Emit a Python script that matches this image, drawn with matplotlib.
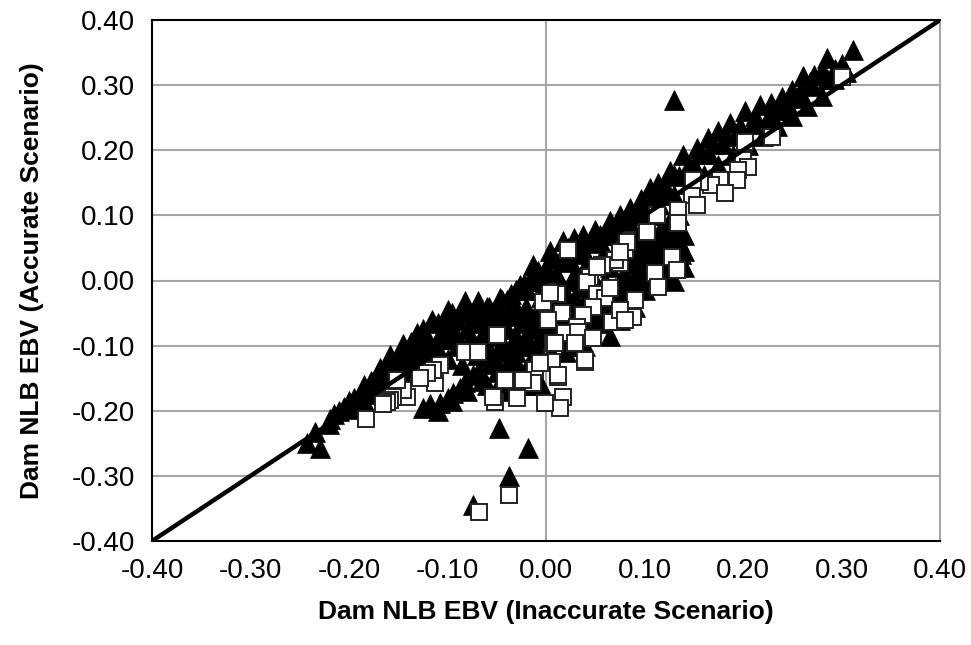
import matplotlib
matplotlib.use("Agg")
import matplotlib.pyplot as plt

# Triangles (black, filled)
tri_x = [
    # upper band, top edge
    -0.243, -0.229, -0.219, -0.205, -0.189, -0.178, -0.169, -0.158, -0.145, -0.131,
    -0.116, -0.100, -0.082, -0.069, -0.058, -0.047, -0.036, -0.026, -0.013, 0.004,
    0.017, 0.028, 0.038, 0.050, 0.065, 0.075, 0.085, 0.096, 0.106, 0.114,
    0.126, 0.139, 0.153, 0.164, 0.175, 0.187, 0.202, 0.217, 0.228, 0.240,
    0.250, 0.261, 0.272, 0.285, 0.300, 0.312, 0.293,
    # upper band, second row
    -0.235, -0.215, -0.200, -0.185, -0.172, -0.160, -0.148, -0.137, -0.125, -0.110,
    -0.095, -0.080, -0.065, -0.050, -0.040, -0.022, -0.008, 0.008, 0.022, 0.035,
    0.055, 0.070, 0.080, 0.092, 0.110, 0.120, 0.130, 0.145, 0.158, 0.170,
    0.183, 0.197, 0.212, 0.232, 0.245, 0.258, 0.268, 0.280, 0.292, 0.305,
    # upper band, middle
    -0.210, -0.195, -0.180, -0.165, -0.150, -0.135, -0.120, -0.105, -0.090, -0.075,
    -0.060, -0.045, -0.030, -0.015, 0.000, 0.015, 0.030, 0.045, 0.060, 0.075,
    0.090, 0.105, 0.120, 0.135, 0.150, 0.165, 0.180, 0.195, 0.210, 0.225,
    0.240, 0.255, 0.270, 0.285, 0.300,
    # upper band, along the line
    -0.220, -0.200, -0.185, -0.170, -0.155, -0.140, -0.125, -0.110, -0.095, -0.080,
    -0.065, -0.050, -0.035, -0.020, -0.005, 0.010, 0.025, 0.040, 0.055, 0.070,
    0.085, 0.100, 0.115, 0.130, 0.145, 0.160, 0.175, 0.190, 0.205, 0.220,
    0.235, 0.250, 0.265, 0.280,
    # upper band, left part filler
    -0.195, -0.180, -0.175, -0.165, -0.155, -0.145, -0.140, -0.130, -0.125, -0.115,
    -0.105, -0.100, -0.090, -0.085, -0.075, -0.070,
    # lower band
    -0.125, -0.118, -0.108, -0.100, -0.094, -0.087, -0.082, -0.074, -0.068, -0.060,
    -0.052, -0.045, -0.036, -0.028, -0.020, -0.010, 0.000, 0.010, 0.020, 0.030,
    0.040, 0.050, 0.060, 0.070, 0.080, 0.090, 0.100, 0.110, 0.120, 0.130,
    0.137, 0.133, 0.125,
    # fill between line and lower band
    -0.100, -0.090, -0.085, -0.075, -0.070, -0.060, -0.060, -0.050, -0.045, -0.040,
    -0.035, -0.030, -0.025, -0.020, -0.020, -0.015, -0.010, -0.005, 0.000, 0.005,
    0.010, 0.015, 0.020, 0.025, 0.030, 0.035, 0.040, 0.045, 0.050, 0.055,
    0.060, 0.065, 0.070, 0.075, 0.080, 0.085, 0.090, 0.095, 0.100, 0.105,
    0.110, 0.115, 0.120, 0.125, 0.130, 0.135, 0.140, 0.140, -0.130, -0.120,
    -0.140, -0.150,
    -0.110, -0.095, -0.080, -0.065, -0.055, -0.040, -0.030, -0.015, -0.005, 0.005,
    0.015, 0.020, 0.030, 0.040, 0.045, 0.050, 0.060, 0.065, 0.070, 0.080,
    0.085, 0.090, 0.095, 0.100, 0.105, 0.110, 0.115, 0.120, 0.125, 0.130,
    0.135, 0.140, 0.100, 0.110, 0.090, 0.060, 0.045, 0.030, 0.015, -0.005,
    -0.060, -0.055, -0.045, -0.035, -0.030, -0.020, -0.015, -0.010, 0.000, 0.005,
    0.010, 0.025, 0.035, 0.040, 0.055, 0.060, 0.070, 0.075, 0.085, 0.095,
    0.105, 0.115, 0.125, 0.135, 0.120, 0.100, 0.085, 0.070, 0.040, 0.025,
    # bottom of lower band
    -0.110, -0.095, -0.080, -0.065, -0.050, -0.040, -0.045, -0.030, -0.020,
    -0.035, -0.020, -0.005, -0.045, -0.060, -0.025,
    # outliers
    0.130, -0.048, -0.018, -0.038, -0.074,
]
tri_y = [
    -0.249, -0.257, -0.212, -0.195, -0.176, -0.155, -0.134, -0.115, -0.098, -0.080,
    -0.060, -0.045, -0.032, -0.032, -0.040, -0.027, -0.020, -0.007, 0.024, 0.045,
    0.061, 0.066, 0.070, 0.078, 0.092, 0.100, 0.112, 0.125, 0.142, 0.150,
    0.168, 0.193, 0.204, 0.219, 0.229, 0.242, 0.260, 0.270, 0.272, 0.281,
    0.293, 0.314, 0.316, 0.342, 0.333, 0.354, 0.325,
    -0.232, -0.205, -0.185, -0.160, -0.145, -0.130, -0.115, -0.095, -0.075, -0.065,
    -0.050, -0.045, -0.050, -0.040, -0.030, -0.005, 0.015, 0.035, 0.050, 0.058,
    0.070, 0.082, 0.095, 0.110, 0.128, 0.148, 0.162, 0.178, 0.195, 0.210,
    0.222, 0.238, 0.252, 0.262, 0.272, 0.290, 0.305, 0.322, 0.310, 0.320,
    -0.200, -0.180, -0.165, -0.145, -0.128, -0.110, -0.092, -0.075, -0.060, -0.050,
    -0.040, -0.030, -0.015, 0.005, 0.020, 0.035, 0.048, 0.060, 0.075, 0.085,
    0.100, 0.118, 0.138, 0.160, 0.178, 0.195, 0.210, 0.225, 0.240, 0.250,
    0.262, 0.280, 0.298, 0.310, 0.322,
    -0.220, -0.198, -0.185, -0.165, -0.152, -0.135, -0.120, -0.105, -0.090, -0.075,
    -0.060, -0.045, -0.030, -0.015, 0.000, 0.012, 0.028, 0.040, 0.058, 0.070,
    0.088, 0.100, 0.118, 0.132, 0.148, 0.162, 0.178, 0.192, 0.208, 0.222,
    0.238, 0.252, 0.268, 0.284,
    -0.190, -0.175, -0.155, -0.160, -0.135, -0.145, -0.110, -0.125, -0.095, -0.110,
    -0.090, -0.065, -0.085, -0.050, -0.065, -0.045,
    -0.196, -0.190, -0.188, -0.180, -0.172, -0.165, -0.156, -0.145, -0.138, -0.128,
    -0.120, -0.110, -0.100, -0.095, -0.085, -0.075, -0.068, -0.060, -0.052, -0.042,
    -0.035, -0.028, -0.020, -0.012, -0.005, 0.002, 0.010, 0.018, 0.025, 0.030,
    0.040, 0.055, 0.065,
    -0.120, -0.100, -0.130, -0.090, -0.115, -0.070, -0.100, -0.060, -0.095, -0.075,
    -0.050, -0.110, -0.065, -0.040, -0.100, -0.120, -0.050, -0.090, -0.040, -0.110,
    -0.030, -0.080, -0.020, -0.100, -0.060, -0.010, -0.080, -0.045, 0.000, -0.065,
    -0.035, 0.020, -0.050, 0.000, -0.025, 0.030, -0.040, 0.050, -0.015, 0.060,
    0.030, 0.075, 0.005, 0.090, 0.050, 0.100, 0.020, 0.070, -0.100, -0.115,
    -0.120, -0.140,
    -0.090, -0.075, -0.100, -0.085, -0.115, -0.055, -0.085, -0.060, -0.025, -0.070,
    -0.045, -0.110, -0.030, -0.100, -0.015, -0.060, 0.000, -0.085, -0.025, 0.010,
    -0.045, 0.025, -0.010, 0.040, 0.000, 0.055, 0.015, 0.045, 0.075, 0.000,
    0.080, 0.045, 0.085, 0.100, 0.070, 0.045, 0.025, 0.010, -0.005, -0.015,
    -0.055, -0.085, -0.070, -0.040, -0.125, -0.055, -0.140, -0.100, -0.060, -0.045,
    -0.085, -0.060, -0.045, -0.065, -0.045, -0.055, -0.035, -0.060, -0.015, 0.020,
    0.035, 0.045, 0.050, 0.060, 0.065, 0.060, 0.055, 0.045, 0.020, 0.000,
    -0.200, -0.185, -0.170, -0.155, -0.140, -0.130, -0.165, -0.140, -0.160,
    -0.170, -0.140, -0.160, -0.150, -0.160, -0.160,
    0.277, -0.226, -0.257, -0.300, -0.345,
]

# Squares (white fill, dark edge)
sq_x = [
    0.300, 0.229, 0.202, 0.200, 0.205, 0.195, 0.194, 0.177, 0.168, 0.156,
    0.148, 0.153, 0.134, 0.113, 0.134, 0.103, 0.082, 0.080, 0.075, 0.070,
    0.057, 0.045, 0.042, 0.052, 0.022, 0.011, -0.003, 0.004, 0.016, 0.002,
    0.060, 0.048, 0.065, 0.038, 0.031, 0.019, 0.032, 0.048, 0.029, 0.007,
    0.040, 0.012, -0.011, 0.006, -0.006, 0.012, -0.013, -0.023, 0.017, 0.014,
    -0.001, -0.029, -0.042, -0.052, -0.054, -0.050, -0.082, -0.069, -0.108, -0.113,
    -0.115, -0.121, -0.128, -0.141, -0.145, -0.151, -0.155, -0.158, -0.161, -0.165,
    -0.183, 0.090, 0.088, 0.067, 0.075, 0.128, 0.133, 0.111, 0.114, 0.182,
    0.149, 0.082, 0.075, 0.052, 0.080, 0.009, 0.040,
    -0.038, -0.068,
]
sq_y = [
    0.312, 0.221, 0.213, 0.185, 0.174, 0.170, 0.154, 0.154, 0.147, 0.151,
    0.131, 0.116, 0.108, 0.100, 0.088, 0.074, 0.062, 0.047, 0.027, 0.031,
    0.024, 0.005, -0.002, -0.020, 0.047, -0.020, -0.033, -0.019, -0.050, -0.060,
    -0.027, -0.040, -0.012, -0.053, -0.071, -0.081, -0.079, -0.088, -0.096, -0.096,
    -0.125, -0.148, -0.137, -0.125, -0.127, -0.145, -0.158, -0.153, -0.179, -0.196,
    -0.188, -0.181, -0.153, -0.186, -0.179, -0.084, -0.110, -0.110, -0.130, -0.157,
    -0.138, -0.142, -0.150, -0.179, -0.168, -0.153, -0.179, -0.184, -0.187, -0.189,
    -0.213, -0.030, -0.056, -0.064, -0.046, 0.036, 0.016, 0.011, -0.010, 0.134,
    0.154, 0.059, 0.044, 0.021, -0.060, -0.096, -0.122,
    -0.330, -0.356,
]

ticks = [-0.4, -0.3, -0.2, -0.1, 0.0, 0.1, 0.2, 0.3, 0.4]
tick_labels = [f"{t:.2f}" for t in ticks]

plt.rcParams["font.family"] = ["Liberation Sans", "DejaVu Sans"]

fig = plt.figure(figsize=(9.71, 6.45), dpi=100)
ax = fig.add_axes([152 / 971, 104 / 645, 788 / 971, 521 / 645])

grid_c = "#a6a6a6"
for t in ticks[1:-1]:
    ax.axhline(t, color=grid_c, lw=1.5, zorder=0)
ax.axvline(0.0, color=grid_c, lw=1.5, zorder=0)

ax.plot(tri_x, tri_y, ls="none", marker="^", ms=14, mfc="black", mec="black", mew=0.5, zorder=2)
ax.plot(sq_x, sq_y, ls="none", marker="s", ms=11, mfc="white", mec="#222222", mew=1.4, zorder=3)
ax.plot([-0.4, 0.4], [-0.4, 0.4], color="black", lw=3.2, zorder=4, solid_capstyle="butt")

ax.set_xlim(-0.4, 0.4)
ax.set_ylim(-0.4, 0.4)
ax.set_xticks(ticks)
ax.set_yticks(ticks)
ax.set_xticklabels(tick_labels)
ax.set_yticklabels(tick_labels)
ax.tick_params(length=0, labelsize=20, pad=12)

for side in ("left", "bottom", "top"):
    ax.spines[side].set_color("black")
    ax.spines[side].set_linewidth(1.5)
ax.spines["right"].set_color(grid_c)
ax.spines["right"].set_linewidth(1.5)

ax.set_xlabel("Dam NLB EBV (Inaccurate Scenario)", fontsize=19, fontweight="bold", labelpad=12)
ax.set_ylabel("Dam NLB EBV (Accurate Scenario)", fontsize=19, fontweight="bold", labelpad=20)

fig.savefig("out.png", dpi=100)
